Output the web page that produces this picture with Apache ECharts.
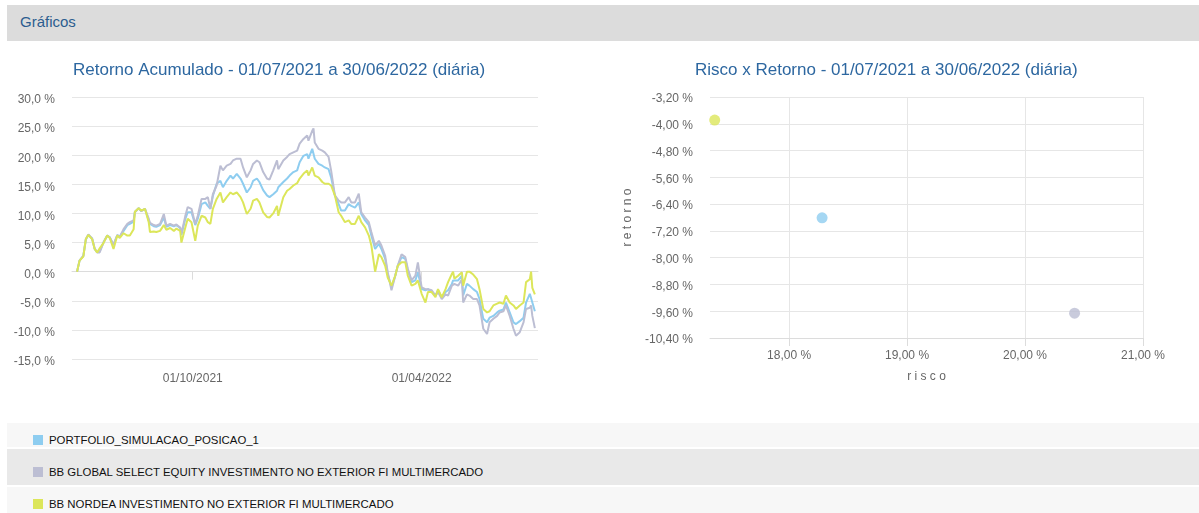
<!DOCTYPE html>
<html>
<head>
<meta charset="utf-8">
<script src="https://cdn.jsdelivr.net/npm/echarts@6/dist/echarts.min.js"></script>
<style>
  html, body { margin: 0; padding: 0; width: 1199px; height: 513px; overflow: hidden; background: #fff;
    font-family: "Liberation Sans", Arial, sans-serif; }
  #hdr { position: absolute; left: 7px; top: 5px; width: 1192px; height: 36px; background: #dcdcdc; }
  #hdr span { position: absolute; left: 13px; top: 8px; font-size: 15px; line-height: 18px; color: #2b5d8f; }
  #chart { position: absolute; left: 0; top: 0; width: 1199px; height: 513px; }
  .row { position: absolute; left: 7px; width: 1192px; }
  .sq { position: absolute; left: 33px; width: 10px; height: 10px; }
  .lbl { position: absolute; left: 49px; font-size: 11.4px; line-height: 14px; color: #111; white-space: nowrap; }
</style>
</head>
<body>
<div id="hdr"><span>Gráficos</span></div>
<div id="legend"></div>
<div id="chart"></div>
<script>
// Fundos comparados (ordem: carteira, BB Global Select, BB Nordea)
const nomes = [
  'PORTFOLIO_SIMULACAO_POSICAO_1',
  'BB GLOBAL SELECT EQUITY INVESTIMENTO NO EXTERIOR FI MULTIMERCADO',
  'BB NORDEA INVESTIMENTO NO EXTERIOR FI MULTIMERCADO'
];
const cores = ['#8ecdf0', '#bcbed3', '#dce65a'];

// Retorno acumulado diário: dias corridos desde 01/07/2021 e retorno (%)
const dias = [0,2,5,7,9,12,14,16,18,21,24,26,29,32,34,37,40,42,45,46,49,51,54,57,58,61,63,66,69,71,
  74,77,79,82,83,86,88,91,94,96,99,102,104,106,108,111,114,116,119,122,124,127,130,132,135,138,140,143,145,148,
  151,153,156,159,160,164,167,169,172,175,177,180,183,184,187,188,189,192,195,197,200,202,205,208,210,213,216,218,221,224,
  226,229,232,234,237,240,242,245,247,250,253,255,258,261,263,266,269,271,274,277,279,282,285,287,290,293,295,298,299,300,
  303,306,307,310,312,315,318,320,323,326,328,331,334,336,339,341,344,347,349,352,355,357,360,361,362,364];

const retornoCarteira = [0,1.9,2.7,5.5,6.3,5.7,3.9,3.3,3.5,5.0,6.2,5.9,4.6,6.3,6.0,7.0,8.0,8.2,8.6,10.2,10.9,10.4,10.8,8.8,8.2,7.8,7.7,8.0,9.3,7.7,
  8.0,7.8,8.0,7.5,6.3,9.0,10.2,10.2,8.0,9.1,11.6,11.9,11.3,10.8,13.0,15.1,15.6,14.5,15.6,16.5,16.0,16.8,16.0,15.1,13.6,14.5,15.6,16.0,15.4,14.0,
  13.1,12.8,13.3,13.9,14.5,15.4,16.0,16.5,17.1,17.4,18.8,19.9,20.2,19.4,21.1,21.4,19.4,18.5,18.2,17.9,17.6,16.2,13.1,11.6,10.5,10.5,11.6,11.3,11.0,11.9,
  9.9,8.8,8.0,6.2,3.9,4.8,3.9,2.2,-0.4,-2.7,-0.7,1.0,2.5,2.2,0.2,-1.8,-1.5,-0.1,-3.0,-3.2,-3.0,-3.5,-4.1,-3.2,-4.4,-3.5,-3.2,-2.1,-1.5,-1.8,
  -1.5,-0.7,-4.1,-2.1,-2.4,-3.0,-3.5,-4.7,-8.1,-8.7,-7.9,-7.6,-7.0,-6.7,-6.5,-5.3,-7.0,-8.7,-9.0,-8.5,-7.9,-5.3,-3.8,-3.5,-5.3,-6.8];

const retornoGlobal = [0,1.9,2.7,5.6,6.4,5.7,4.0,3.3,3.3,5.0,6.2,5.9,4.6,6.3,6.0,7.3,8.2,8.5,8.8,10.3,10.9,10.4,10.8,9.1,8.4,8.0,7.9,8.2,9.9,7.9,
  8.2,7.9,8.1,7.6,6.5,9.5,11.1,10.8,8.2,9.6,12.5,12.5,12.8,10.8,13.3,14.8,18.2,17.4,18.2,18.5,19.1,19.4,19.4,17.9,16.2,17.4,18.5,19.1,18.8,17.1,
  16.0,15.8,17.4,19.1,17.6,19.1,19.7,20.2,20.5,20.8,22.0,22.8,23.4,22.5,24.2,24.6,22.2,21.1,20.8,20.5,19.7,17.4,13.1,12.2,11.9,11.9,12.8,11.9,11.9,13.4,
  10.2,9.3,8.5,6.8,4.5,5.3,4.5,2.7,-0.1,-3.2,-0.7,1.0,3.0,2.5,0.5,-1.5,-0.7,1.6,-2.7,-3.0,-3.0,-3.2,-4.1,-3.5,-4.7,-3.9,-4.1,-2.4,-2.2,-2.1,
  -2.4,-1.3,-5.3,-3.9,-4.1,-4.7,-4.7,-5.8,-9.8,-10.7,-8.7,-8.1,-7.6,-7.0,-6.8,-5.8,-7.6,-9.8,-11.0,-10.4,-8.7,-6.4,-6.2,-5.8,-7.6,-9.7];

const retornoNordea = [0,1.9,2.6,5.6,6.3,5.6,3.9,3.3,4.0,4.9,6.2,5.8,3.9,6.2,5.8,6.6,6.2,6.2,7.3,10.3,10.9,10.5,10.8,8.5,6.8,6.9,6.8,7.0,8.0,7.2,
  7.5,7.0,7.4,7.0,5.0,7.5,9.1,8.5,5.3,7.9,9.6,9.3,8.5,8.2,10.8,12.5,13.6,11.9,12.8,13.6,13.3,13.6,12.8,11.9,9.9,10.8,12.2,12.5,11.9,10.2,
  9.4,9.3,10.0,11.3,9.6,12.8,13.9,14.2,14.8,15.2,16.0,16.8,17.4,16.5,17.9,18.2,16.5,16.2,15.4,15.1,15.1,14.8,13.1,10.2,9.6,8.5,8.8,8.2,8.2,9.6,
  8.5,7.6,6.2,4.5,0.0,3.0,2.5,1.0,-1.0,-2.4,-0.7,1.0,1.6,1.6,-0.7,-2.4,-2.1,-1.5,-3.8,-5.3,-3.5,-3.5,-4.4,-3.0,-4.4,-3.0,-1.8,-0.4,0.0,-1.2,
  -0.7,-0.1,-2.4,0.0,0.0,-0.5,-1.3,-3.0,-6.4,-7.0,-6.8,-5.8,-5.5,-5.3,-5.5,-4.1,-5.3,-5.8,-6.4,-5.8,-5.3,-1.8,-1.3,0.0,-2.8,-3.9];

// Risco x retorno anualizados (%), mesma ordem dos fundos
const risco = [18.28, 20.42, 17.37];
const retornoPeriodo = [-6.81, -9.66, -3.89];

// Eixos
const ticksRetorno = [-15, 30, 5];            // min, max, passo
const ticksRiscoY = [-10.4, -3.2, 0.8];       // min, max, passo
const ticksRiscoX = [18, 19, 20, 21];
const diasMarcados = [92, 274];               // 01/10/2021 e 01/04/2022

const DIA = 86400000;
const inicio = Date.UTC(2021, 6, 1);
const fmtDia = v => { const d = new Date(inicio + Math.round(v) * DIA); const z = n => String(n).padStart(2, '0');
  return z(d.getUTCDate()) + '/' + z(d.getUTCMonth() + 1) + '/' + d.getUTCFullYear(); };
const pct = dec => v => v.toFixed(dec).replace('.', ',') + ' %';

// Legenda em linhas
const alturas = [[423, 24, '#f7f7f7', 440], [449, 36, '#e9e9e9', 472], [487, 26, '#f7f7f7', 504]];
const leg = document.getElementById('legend');
nomes.forEach((n, i) => {
  const [top, h, bg, cy] = alturas[i];
  const row = document.createElement('div');
  row.className = 'row'; row.style.top = top + 'px'; row.style.height = h + 'px'; row.style.background = bg;
  leg.appendChild(row);
  const sq = document.createElement('div');
  sq.className = 'sq'; sq.style.top = (cy - 5) + 'px'; sq.style.background = cores[i];
  leg.appendChild(sq);
  const t = document.createElement('div');
  t.className = 'lbl'; t.style.top = (cy - 7) + 'px'; t.textContent = n;
  leg.appendChild(t);
});

const chart = echarts.init(document.getElementById('chart'), null, { renderer: 'canvas' });
const fonte = '"Liberation Sans", Arial, sans-serif';
const cinzaGrade = '#e6e6e6';
const corEixo = '#666';

const serieLinha = (vals, i) => ({
  type: 'line', name: nomes[i], xAxisIndex: 0, yAxisIndex: 0,
  data: dias.map((d, k) => [d, vals[k]]),
  showSymbol: false, symbol: 'none', z: 2 + i,
  lineStyle: { width: 2, color: cores[i] }, itemStyle: { color: cores[i] }
});

chart.setOption({
  animation: false,
  textStyle: { fontFamily: fonte },
  title: [
    { text: 'Retorno Acumulado - 01/07/2021 a 30/06/2022 (diária)', left: 73, top: 62, padding: 0,
      textStyle: { fontSize: 17, fontWeight: 'normal', color: '#2d67a0', fontFamily: fonte } },
    { text: 'Risco x Retorno - 01/07/2021 a 30/06/2022 (diária)', left: 695, top: 62, padding: 0,
      textStyle: { fontSize: 17, fontWeight: 'normal', color: '#2d67a0', fontFamily: fonte } }
  ],
  grid: [
    { left: 72, top: 97, width: 466, height: 262 },
    { left: 710, top: 97, width: 433, height: 241 }
  ],
  xAxis: [
    { gridIndex: 0, type: 'value', min: -4, max: 366.5,
      axisLine: { lineStyle: { color: '#dcdcdc' } },
      axisTick: { show: true, length: 8, lineStyle: { color: '#dcdcdc' }, customValues: diasMarcados },
      axisLabel: { customValues: diasMarcados, formatter: fmtDia, color: corEixo, fontSize: 12, margin: 14 },
      splitLine: { show: false } },
    { gridIndex: 1, type: 'value', min: 17.33, max: 21,
      name: 'r i s c o', nameLocation: 'middle', nameGap: 33,
      nameTextStyle: { color: corEixo, fontSize: 12 },
      axisLine: { lineStyle: { color: '#dcdcdc' } },
      axisTick: { show: true, length: 8, lineStyle: { color: '#dcdcdc' }, customValues: ticksRiscoX },
      axisLabel: { customValues: ticksRiscoX, formatter: pct(2), color: corEixo, fontSize: 12, margin: 12 },
      splitLine: { show: true, lineStyle: { color: cinzaGrade } } }
  ],
  yAxis: [
    { gridIndex: 0, type: 'value', min: ticksRetorno[0], max: ticksRetorno[1], interval: ticksRetorno[2],
      axisLine: { show: false }, axisTick: { show: false },
      axisLabel: { formatter: pct(1), color: corEixo, fontSize: 12, margin: 17,
        verticalAlign: 'top', lineHeight: 6 },
      splitLine: { lineStyle: { color: cinzaGrade } } },
    { gridIndex: 1, type: 'value', min: ticksRiscoY[0], max: ticksRiscoY[1], interval: ticksRiscoY[2],
      name: 'r e t o r n o', nameLocation: 'middle', nameGap: 76, nameRotate: 90,
      nameTextStyle: { color: corEixo, fontSize: 12 },
      axisLine: { show: false }, axisTick: { show: false },
      axisLabel: { formatter: pct(2), color: corEixo, fontSize: 12, margin: 17,
        verticalAlign: 'top', lineHeight: 4 },
      splitLine: { lineStyle: { color: cinzaGrade } } }
  ],
  series: [
    serieLinha(retornoCarteira, 0),
    serieLinha(retornoGlobal, 1),
    serieLinha(retornoNordea, 2),
    { type: 'scatter', xAxisIndex: 1, yAxisIndex: 1, symbolSize: 11,
      data: risco.map((r, i) => ({ value: [r, retornoPeriodo[i]], name: nomes[i], itemStyle: { color: cores[i] } })) }
  ]
});
</script>
</body>
</html>
